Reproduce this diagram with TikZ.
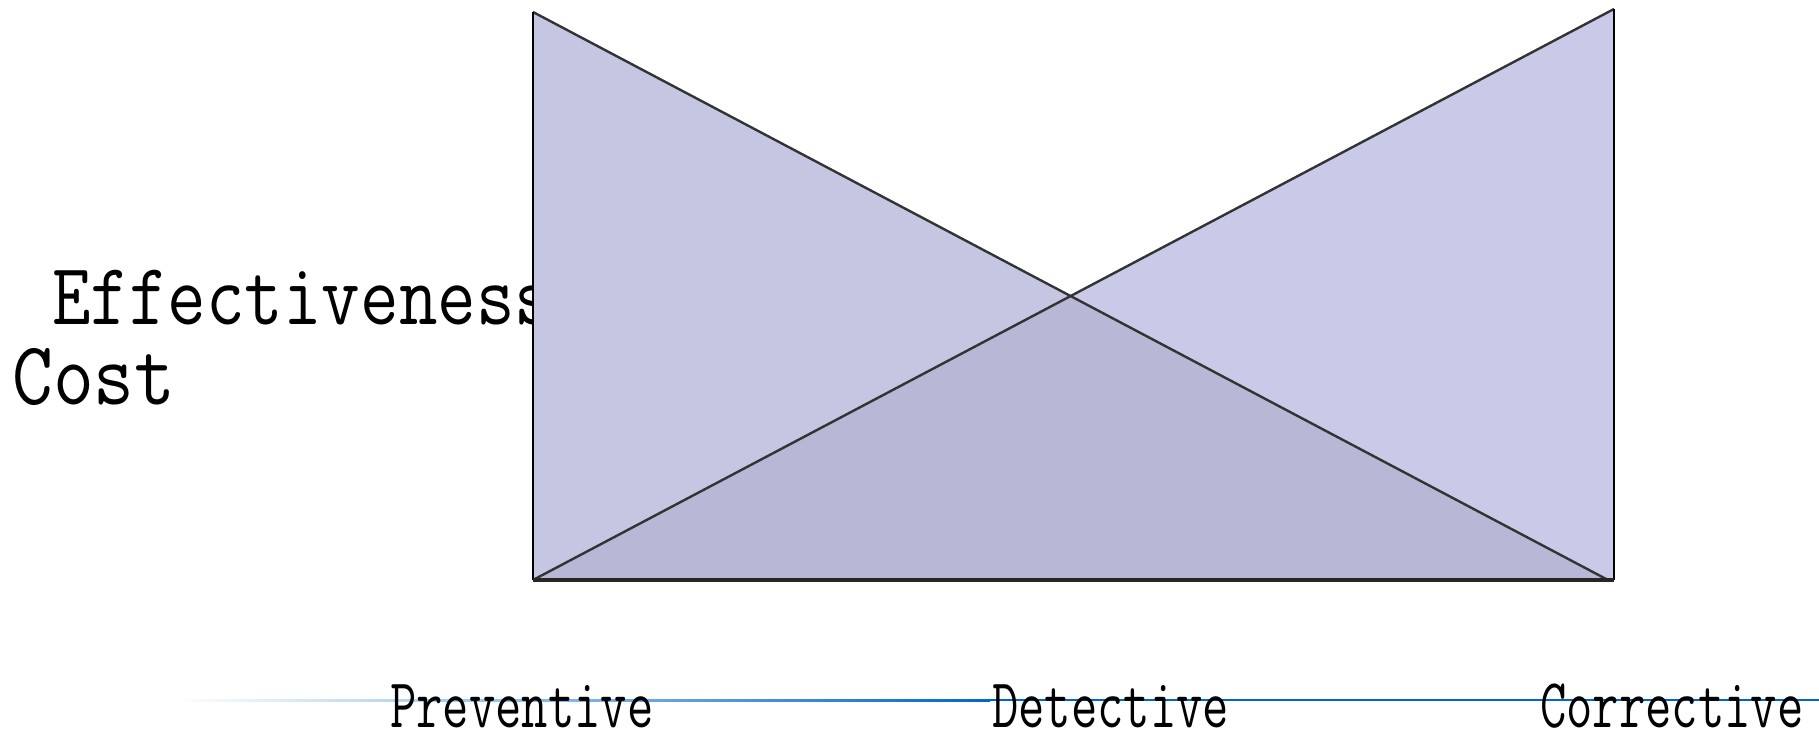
\documentclass[tikz,border=0pt]{standalone}
\usepackage{fontspec}
\begin{document}
\begin{tikzpicture}[x=0.5pt,y=-0.5pt,
  lbl/.style={inner sep=0pt,anchor=base west,font=\ttfamily},
  edge/.style={draw=black!80,line width=1.2pt}]
\definecolor{leftfill}{HTML}{C5C6E2}
\definecolor{rightfill}{HTML}{C9CAE7}
\definecolor{overlapfill}{HTML}{B7B8D6}
\definecolor{lineblue}{HTML}{0066CC}
\useasboundingbox (0,0) rectangle (1819,733);
% axis labels (behind triangles)
\node[lbl,font=\fontsize{44}{44}\selectfont\ttfamily,xscale=0.85] (eff) at (52,324) {Effectiveness};
\node[lbl,font=\fontsize{45}{45}\selectfont\ttfamily,xscale=0.88] (cost) at (12,404) {Cost};
% coordinates
\coordinate (LT) at (533,12);
\coordinate (LB) at (533,580);
\coordinate (RB) at (1608,580);
\coordinate (RT) at (1614,9);
\coordinate (RBB) at (1614,580);
\coordinate (X) at (1070,296);
% fills
\fill[leftfill] (LT) -- (LB) -- (RB) -- cycle;
\fill[rightfill] (RT) -- (RBB) -- (LB) -- cycle;
\fill[overlapfill] (LB) -- (X) -- (RB) -- cycle;
% edges
\draw[edge] (LT) -- (RB);
\draw[edge] (LB) -- (RT);
\draw[black,line width=0.8pt] (LT) -- (LB);
\draw[black,line width=0.8pt] (RT) -- (RBB);
\draw[black!85,line width=1.8pt] (LB) -- (RBB);
% bottom axis line
\shade[left color=white,right color=lineblue] (174,699) rectangle (990,701.2);
\fill[lineblue] (990,699) rectangle (1819,701.2);
% category labels
\node[lbl,text depth=0pt,font=\fontsize{35}{35}\selectfont\ttfamily,xscale=0.73] (prev) at (390,727) {Preventive};
\node[lbl,text depth=0pt,font=\fontsize{35}{35}\selectfont\ttfamily,xscale=0.73] (det) at (992,727) {Detective};
\node[lbl,text depth=0pt,font=\fontsize{35}{35}\selectfont\ttfamily,xscale=0.73] (corr) at (1540,727) {Corrective};
\end{tikzpicture}
\end{document}
